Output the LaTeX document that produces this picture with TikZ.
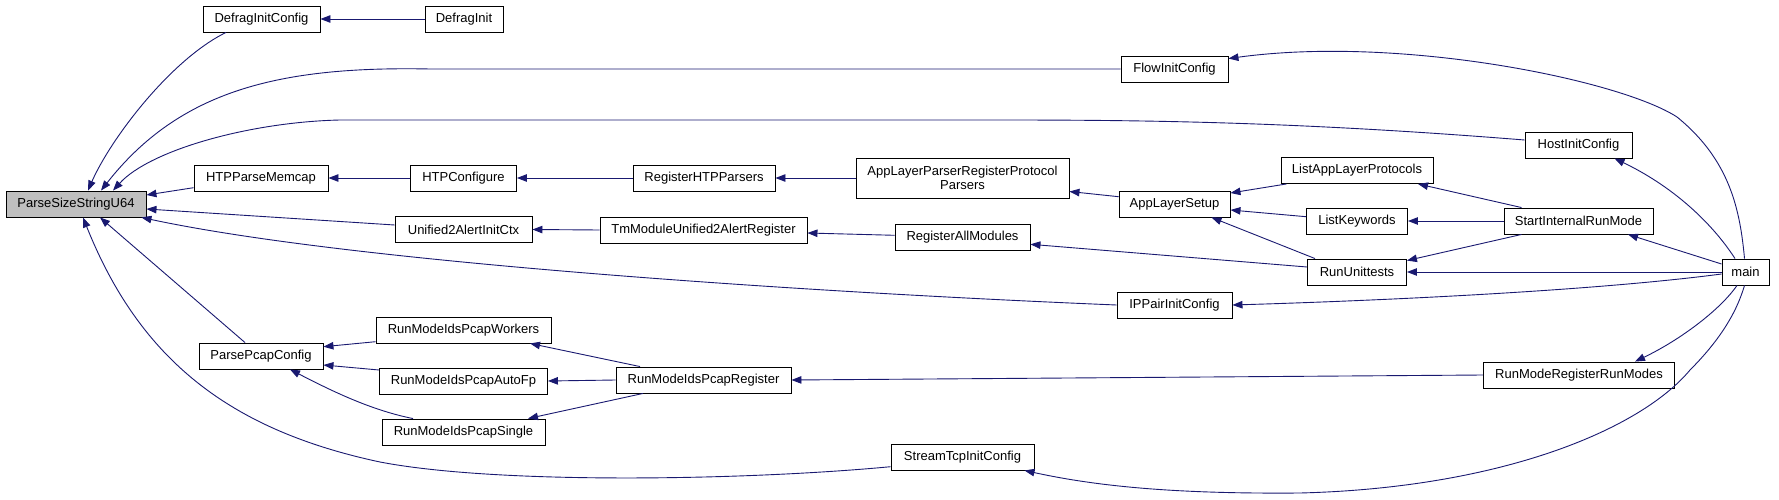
\documentclass[tikz,border=0pt]{standalone}
\usepackage{fontspec}
\setmainfont{Liberation Sans}
\usetikzlibrary{arrows.meta}
\definecolor{edgeblue}{HTML}{191970}
\definecolor{focusgrey}{HTML}{BFBFBF}
\begin{document}
\begin{tikzpicture}[x=1pt,y=1pt,
  fn/.style={draw=black, line width=0.9pt, fill=white, minimum height=26pt, inner sep=0pt,
    font=\fontsize{13}{14}\selectfont, align=center},
  edge/.style={draw=edgeblue, line width=0.9pt, {Triangle[length=10pt,width=7.5pt]}-}]
\useasboundingbox (0,0) rectangle (1779,-500);

% nodes
\node[fn, minimum width=140pt, fill=focusgrey] (ps) at (76,-204) {ParseSizeStringU64};
\node[fn, minimum width=117pt] (dic) at (261.5,-19) {DefragInitConfig};
\node[fn, minimum width=78pt] (di) at (464,-19) {DefragInit};
\node[fn, minimum width=107pt] (fic) at (1174.5,-69) {FlowInitConfig};
\node[fn, minimum width=107pt] (hic) at (1578.5,-145) {HostInitConfig};
\node[fn, minimum width=134pt] (hpm) at (261,-178) {HTPParseMemcap};
\node[fn, minimum width=106pt] (htc) at (463.5,-178) {HTPConfigure};
\node[fn, minimum width=142pt] (rhp) at (704,-178) {RegisterHTPParsers};
\node[fn, minimum width=213pt, minimum height=40pt] (alp) at (962.5,-178) {AppLayerParserRegisterProtocol\\Parsers};
\node[fn, minimum width=111pt] (als) at (1174.5,-204) {AppLayerSetup};
\node[fn, minimum width=152pt] (lap) at (1357,-170.5) {ListAppLayerProtocols};
\node[fn, minimum width=101pt] (lk) at (1357,-221) {ListKeywords};
\node[fn, minimum width=149pt] (sir) at (1578.5,-221) {StartInternalRunMode};
\node[fn, minimum width=137pt] (uai) at (463.5,-229.5) {Unified2AlertInitCtx};
\node[fn, minimum width=207pt] (tmu) at (703.5,-230) {TmModuleUnified2AlertRegister};
\node[fn, minimum width=135pt] (ram) at (962.5,-237) {RegisterAllModules};
\node[fn, minimum width=99pt] (ru) at (1357,-272) {RunUnittests};
\node[fn, minimum width=47pt] (main) at (1745.5,-272) {main};
\node[fn, minimum width=115pt] (ipp) at (1174.5,-305) {IPPairInitConfig};
\node[fn, minimum width=124pt] (ppc) at (261,-356) {ParsePcapConfig};
\node[fn, minimum width=175pt] (rw) at (463.5,-330) {RunModeIdsPcapWorkers};
\node[fn, minimum width=168pt] (ra) at (463.5,-381) {RunModeIdsPcapAutoFp};
\node[fn, minimum width=163pt] (rs) at (463.5,-432) {RunModeIdsPcapSingle};
\node[fn, minimum width=175pt] (rr) at (703.5,-380) {RunModeIdsPcapRegister};
\node[fn, minimum width=191pt] (rrm) at (1579,-375) {RunModeRegisterRunModes};
\node[fn, minimum width=143pt] (stc) at (962.5,-457) {StreamTcpInitConfig};

% edges into ParseSizeStringU64
\draw[edge] ([xshift=12pt]ps.north) .. controls (110,-140) and (170,-60) .. ([xshift=-35.5pt]dic.south);
\draw[edge] ([xshift=25pt]ps.north) .. controls (180,-90) and (280,-66) .. (430,-69) -- (fic.west);
\draw[edge] ([xshift=37pt]ps.north) .. controls (150,-150) and (250,-122) .. (340,-120) -- (1000,-120)
  .. controls (1150,-120) and (1300,-122) .. ([yshift=5pt]hic.west);
\draw[edge] ([yshift=9pt]ps.east) -- ([yshift=-9.7pt]hpm.west);
\draw[edge] ([yshift=-5pt]ps.east) -- ([yshift=4.5pt]uai.west);
\draw[edge] ([xshift=-5pt]ps.south east) .. controls (350,-262) and (800,-292) .. (ipp.west);
\draw[edge] ([xshift=24pt]ps.south) -- ([xshift=-16pt]ppc.north);
\draw[edge] ([xshift=7pt]ps.south) .. controls (140,-360) and (230,-430) .. (380,-462)
  .. controls (500,-485) and (750,-480) .. ([yshift=-9.7pt]stc.west);

% other edges
\draw[edge] (dic.east) -- (di.west);
\draw[edge] ([yshift=-3pt]fic.north east) .. controls (1400,-35) and (1620,-80) .. (1677,-117)
  .. controls (1730,-160) and (1740,-210) .. ([xshift=-1pt]main.north);
\draw[edge] ([xshift=36pt]hic.south) .. controls (1670,-185) and (1710,-220) .. ([xshift=-10.5pt]main.north);
\draw[edge] ([xshift=49.5pt]sir.south) -- ([yshift=8pt]main.west);
\draw[edge] (ru.east) -- (main.west);
\draw[edge] (ipp.east) .. controls (1400,-300) and (1600,-290) .. ([yshift=-2pt]main.west);
\draw[edge] ([xshift=56pt]rrm.north) .. controls (1680,-340) and (1720,-310) .. ([xshift=-8.5pt]main.south);
\draw[edge] ([xshift=62pt]stc.south) .. controls (1100,-487) and (1180,-494) .. (1300,-493)
  .. controls (1500,-488) and (1640,-430) .. (1690,-370)
  .. controls (1730,-330) and (1740,-300) .. ([xshift=-1pt]main.south);

\draw[edge] (hpm.east) -- (htc.west);
\draw[edge] (htc.east) -- (rhp.west);
\draw[edge] (rhp.east) -- (alp.west);
\draw[edge] ([yshift=-13.5pt]alp.east) -- ([yshift=7.3pt]als.west);
\draw[edge] ([yshift=11pt]als.east) -- ([xshift=6pt]lap.south west);
\draw[edge] ([yshift=-6pt]als.east) -- ([yshift=4.3pt]lk.west);
\draw[edge] ([xshift=37pt]als.south) -- ([xshift=-42pt]ru.north);
\draw[edge] ([xshift=61pt]lap.south) -- ([xshift=-57pt]sir.north);
\draw[edge] (lk.east) -- (sir.west);
\draw[edge] ([yshift=-2pt]ru.north east) -- ([xshift=-57pt]sir.south);

\draw[edge] (uai.east) -- (tmu.west);
\draw[edge] ([yshift=-3pt]tmu.east) -- ([yshift=1.7pt]ram.west);
\draw[edge] ([yshift=-7.3pt]ram.east) -- ([yshift=5pt]ru.west);

\draw[edge] ([yshift=9.3pt]ppc.east) -- ([yshift=-11.7pt]rw.west);
\draw[edge] ([yshift=-9pt]ppc.east) -- ([yshift=11pt]ra.west);
\draw[edge] ([xshift=29pt]ppc.south) .. controls (330,-390) and (370,-410) .. ([xshift=-50.5pt]rs.north);
\draw[edge] ([xshift=66.5pt]rw.south) -- ([xshift=-63.5pt]rr.north);
\draw[edge] (ra.east) -- (rr.west);
\draw[edge] ([xshift=64.5pt]rs.north) -- ([xshift=-60.5pt]rr.south);
\draw[edge] (rr.east) -- (rrm.west);
\end{tikzpicture}
\end{document}
